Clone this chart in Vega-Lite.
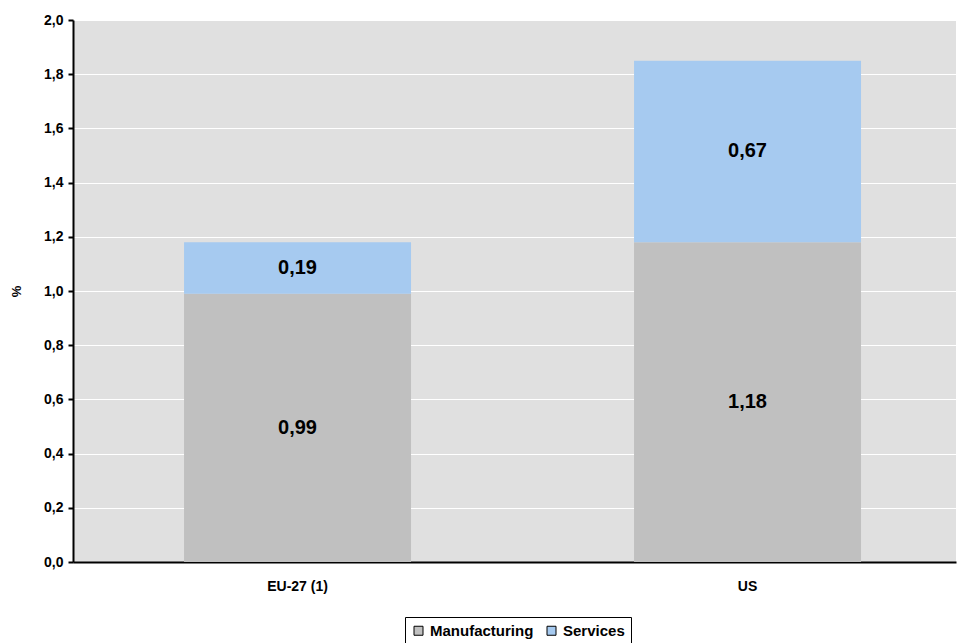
{
  "$schema": "https://vega.github.io/schema/vega-lite/v6.json",
  "width": 883,
  "height": 542,
  "autosize": "none",
  "padding": {"left": 73, "top": 20, "right": 1, "bottom": 81},
  "background": "white",
  "config": {
    "locale": {"number": {"decimal": ",", "thousands": ".", "grouping": [3], "currency": ["", "€"]}},
    "font": "Liberation Sans",
    "view": {"fill": "#e0e0e0", "stroke": null}
  },
  "data": {
    "values": [
      {"region": "EU-27 (1)", "sector": "Manufacturing", "value": 0.99, "order": 1},
      {"region": "EU-27 (1)", "sector": "Services", "value": 0.19, "order": 2},
      {"region": "US", "sector": "Manufacturing", "value": 1.18, "order": 1},
      {"region": "US", "sector": "Services", "value": 0.67, "order": 2}
    ]
  },
  "transform": [
    {"stack": "value", "groupby": ["region"], "sort": [{"field": "order"}], "as": ["y0", "y1"]},
    {"calculate": "(datum.y0 + datum.y1) / 2", "as": "mid"}
  ],
  "encoding": {
    "x": {
      "field": "region",
      "type": "nominal",
      "sort": ["EU-27 (1)", "US"],
      "scale": {"paddingInner": 0.4956, "paddingOuter": 0.2289, "align": 0.539},
      "axis": {
        "title": null,
        "labelAngle": 0,
        "labelFont": "Liberation Sans",
        "labelFontWeight": "bold",
        "labelFontSize": 14,
        "labelColor": "black",
        "labelPadding": 17,
        "domainColor": "black",
        "domainWidth": 2,
        "ticks": false,
        "grid": false
      }
    }
  },
  "layer": [
    {
      "mark": {"type": "bar"},
      "encoding": {
        "y": {
          "field": "y0",
          "type": "quantitative",
          "scale": {"domain": [0, 2], "nice": false},
          "axis": {
            "title": "%",
            "titleFont": "Liberation Sans",
            "titleFontSize": 13,
            "titleFontWeight": "bold",
            "titleColor": "black",
            "titlePadding": 20,
            "values": [0, 0.2, 0.4, 0.6, 0.8, 1.0, 1.2, 1.4, 1.6, 1.8, 2.0],
            "format": ".1f",
            "labelFont": "Liberation Sans",
            "labelFontWeight": "bold",
            "labelFontSize": 14,
            "labelColor": "black",
            "labelPadding": 5,
            "domainColor": "black",
            "domainWidth": 2,
            "tickColor": "black",
            "tickWidth": 2,
            "tickSize": 5,
            "gridColor": "white",
            "gridWidth": 1,
            "gridOpacity": 1
          }
        },
        "y2": {"field": "y1"},
        "color": {
          "field": "sector",
          "type": "nominal",
          "scale": {"domain": ["Manufacturing", "Services"], "range": ["#c0c0c0", "#a6caf0"]},
          "legend": {
            "title": null,
            "orient": "none",
            "direction": "horizontal",
            "legendX": 332,
            "legendY": 597,
            "symbolType": "square",
            "symbolSize": 81,
            "symbolStrokeColor": "black",
            "symbolStrokeWidth": 1,
            "labelFont": "Liberation Sans",
            "labelFontWeight": "bold",
            "labelFontSize": 15,
            "labelColor": "black",
            "labelOffset": 4,
            "columnPadding": 10,
            "strokeColor": "black",
            "padding": 6,
            "fillColor": "white"
          }
        }
      }
    },
    {
      "mark": {"type": "text", "font": "Liberation Sans", "fontWeight": "bold", "fontSize": 20, "color": "black", "baseline": "middle", "align": "center"},
      "encoding": {
        "y": {"field": "mid", "type": "quantitative"},
        "text": {"field": "value", "type": "quantitative", "format": ".2f"}
      }
    }
  ]
}
